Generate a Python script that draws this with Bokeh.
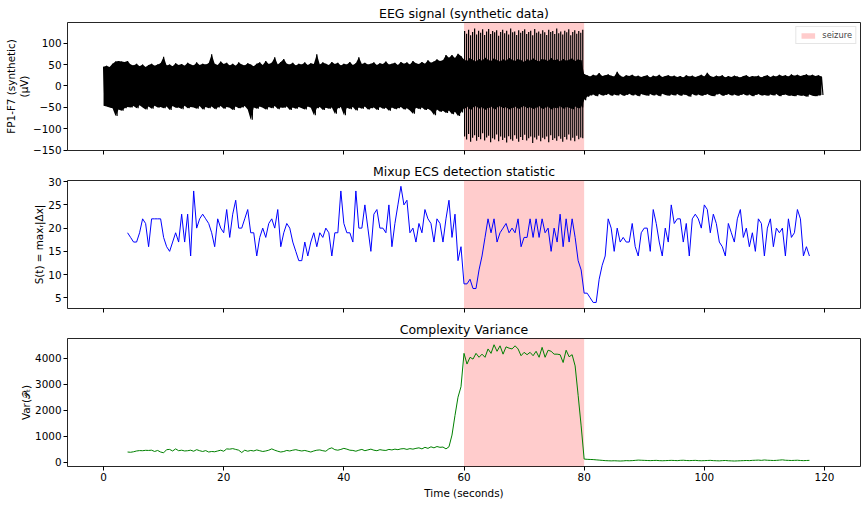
import numpy as np
from bokeh.plotting import figure
from bokeh.layouts import column
from bokeh.models import (BoxAnnotation, FixedTicker, Range1d, Legend, LegendItem,
                          CustomJSTickFormatter)
from bokeh.embed import file_html
from bokeh.resources import INLINE

# ---------------------------------------------------------------- data
seizure_start, seizure_end = 60.0, 80.0

# EEG amplitude envelope (µV), 0.5 s bins from 0 s to 120 s
eeg_bin = 0.5
eeg_upper_pre = [
    45, 47, 44, 52, 57, 58, 57, 56, 58, 50,
    48, 52, 46, 50, 44, 49, 52, 47, 50, 53,
    68, 48, 50, 46, 53, 49, 51, 47, 54, 50,
    48, 55, 49, 52, 50, 53, 74, 52, 49, 57,
    51, 54, 48, 52, 47, 55, 50, 48, 53, 50,
    46, 52, 55, 49, 58, 51, 54, 67, 50, 56,
    63, 52, 50, 54, 48, 52, 50, 55, 49, 53,
    51, 74, 50, 55, 52, 49, 56, 51, 54, 48,
    52, 50, 56, 49, 53, 67, 51, 54, 50, 52,
    55, 49, 53, 51, 57, 50, 52, 54, 49, 56,
    52, 55, 50, 58, 53, 51, 56, 52, 60, 54,
    57, 62, 58, 60, 72, 66, 72, 65, 75, 70]
eeg_lower_pre = [
    -46, -48, -50, -52, -70, -55, -58, -52, -49, -50,
    -47, -52, -45, -50, -55, -48, -53, -46, -50, -49,
    -52, -48, -56, -47, -51, -50, -54, -46, -52, -49,
    -50, -53, -47, -55, -49, -52, -48, -54, -50, -47,
    -53, -49, -51, -56, -48, -52, -50, -47, -55, -79,
    -50, -53, -48, -51, -55, -49, -52, -47, -54, -50,
    -51, -48, -56, -50, -53, -49, -52, -55, -48, -51,
    -68, -52, -49, -56, -51, -53, -50, -65, -52, -49,
    -68, -51, -54, -49, -57, -50, -53, -48, -55, -52,
    -50, -56, -49, -53, -51, -58, -50, -54, -52, -49,
    -55, -52, -57, -65, -51, -54, -50, -56, -53, -58,
    -68, -55, -60, -58, -63, -57, -66, -60, -70, -62]
eeg_upper_seizure = [
    62, 58, 65, 60, 57, 63, 59, 66, 61, 58, 64, 60, 57, 62, 59, 65, 61, 58, 63, 60,
    56, 62, 59, 64, 60, 57, 63, 61, 58, 65, 60, 62, 57, 63, 59, 61, 64, 58, 62, 60]
eeg_lower_seizure = [
    -52, -48, -55, -50, -47, -53, -49, -56, -51, -48, -54, -50, -47, -52, -49, -55, -51, -48, -53, -50,
    -46, -52, -49, -54, -50, -47, -53, -51, -48, -55, -50, -52, -47, -53, -49, -51, -54, -48, -52, -50]
eeg_upper_post = [
    28, 25, 22, 26, 24, 30, 23, 25, 27, 24,
    22, 33, 24, 21, 25, 23, 26, 22, 24, 21,
    23, 25, 20, 24, 22, 26, 21, 23, 25, 22,
    24, 21, 23, 20, 25, 22, 24, 21, 23, 26,
    22, 31, 23, 21, 24, 22, 25, 20, 23, 21,
    24, 22, 20, 23, 25, 21, 23, 22, 24, 20,
    23, 25, 21, 24, 22, 26, 23, 25, 22, 27,
    24, 26, 23, 25, 27, 24, 26, 23, 25, 22]
eeg_lower_post = [
    -33, -25, -22, -20, -24, -19, -22, -21, -18, -23,
    -20, -22, -19, -23, -21, -18, -22, -20, -24, -19,
    -21, -23, -19, -22, -20, -24, -18, -21, -23, -20,
    -22, -19, -23, -20, -21, -25, -19, -22, -20, -23,
    -21, -19, -22, -24, -20, -18, -23, -21, -19, -22,
    -20, -23, -21, -19, -22, -20, -24, -21, -19, -22,
    -21, -23, -20, -22, -19, -24, -21, -20, -23, -22,
    -24, -21, -23, -22, -25, -20, -23, -24, -22, -21]

# ~3 Hz spike-wave discharges during the seizure: per-cycle peak / trough (µV)
spike_start, spike_period = 60.1, 1.0 / 3.0
spike_peak = [
    128, 122, 131, 118, 126, 134, 120, 129, 124, 132,
    119, 127, 133, 121, 128, 125, 130, 117, 126, 131,
    123, 129, 120, 134, 125, 127, 119, 130, 124, 128,
    132, 121, 126, 129, 118, 133, 124, 127, 122, 130,
    125, 119, 131, 126, 128, 121, 134, 123, 127, 120,
    129, 125, 132, 118, 126, 130, 122, 128, 124, 131]
spike_trough = [
    -118, -125, -112, -130, -121, -115, -128, -119, -124, -110,
    -127, -120, -116, -131, -122, -125, -113, -129, -118, -126,
    -121, -132, -117, -124, -128, -115, -123, -130, -119, -126,
    -114, -127, -122, -118, -133, -120, -125, -116, -129, -121,
    -124, -118, -131, -115, -126, -122, -128, -117, -123, -130,
    -119, -125, -113, -127, -121, -129, -116, -124, -120, -122]

# Sliding-window statistics, one value every 0.5 s from t = 4 s
stat_start, stat_step = 4.0, 0.5
ecs_stat = [
    19, 18, 17, 17, 19, 22, 21, 16, 22, 22,
    22, 22, 18, 16, 15, 17, 19, 17, 23, 17,
    23, 14, 28, 20, 22, 23, 22, 21, 19, 16,
    22, 20, 19, 24, 18, 23, 26, 20, 20, 22,
    24, 19, 19, 14, 18, 20, 18, 21, 22, 20,
    24, 16, 19, 21, 20, 17, 15, 13,
    13, 17, 14, 17, 19, 16, 19, 18, 20, 19,
    14, 19, 19, 28, 21, 19, 19, 17, 28, 20,
    20, 25, 20, 15, 23, 24, 20, 20, 19, 25,
    16, 21, 25, 29, 25, 26, 19, 20, 17, 21,
    19, 24, 22, 21, 17, 22, 21, 17, 22, 26,
    18, 23, 13, 16,
    8, 8, 9, 7, 7, 11, 14, 18, 22, 19,
    22, 17, 19, 20, 21, 19, 20, 19, 22, 16,
    18, 18, 22, 18, 22, 18, 22, 19, 20, 15,
    20, 17, 23, 16, 22, 17, 22, 18, 13, 11,
    6, 6, 5, 4, 4, 9, 12, 14, 22, 20,
    15, 20, 17, 18, 17, 17, 21, 16, 14, 19,
    20, 20, 15, 24, 21, 17, 14, 20, 17, 25,
    21, 22, 22, 17, 21, 14, 22, 23, 22, 20,
    25, 24, 19, 23, 21, 17, 16, 14, 21, 19,
    17, 22, 24, 18, 20, 16, 19, 15, 22, 21,
    14, 20, 22, 16, 20, 19, 20, 14, 22, 18,
    19, 24, 22, 14, 16, 14]
complexity_var = [
    400, 390, 410, 440, 455, 450, 465, 460, 470, 420,
    460, 400, 370, 490, 500, 440, 520, 450, 470, 440,
    450, 470, 430, 490, 450, 420, 455, 400, 420, 410,
    440, 470, 430, 520, 510, 530, 500, 470, 380, 470,
    430, 460, 440, 480, 450, 420, 440, 470, 520, 470,
    430, 400, 420, 460, 440, 470, 490, 460, 440, 460,
    430, 400, 440, 470, 480, 450, 430, 520, 560, 490,
    470, 500, 540, 510, 470, 460, 430, 470, 500, 450,
    480, 510, 470, 450, 490, 470, 460, 500, 480, 510,
    490, 520, 530, 500, 530, 510, 540, 560, 520, 580,
    540, 600, 560, 610, 580, 590, 520, 600, 1050, 1800,
    2500, 2900,
    4180, 3770, 4030, 3960, 4180, 4030, 4150, 4030, 4350, 4180,
    4510, 4260, 4470, 4150, 4430, 4380, 4350, 4470, 4350, 4090,
    4220, 4130, 4220, 4090, 4260, 4030, 4410, 4030, 4300, 4260,
    4150, 4150, 4130, 3830, 4300, 4050, 4130, 3700, 2570, 1400,
    130, 120, 115, 110, 100, 90, 80, 70, 65, 60,
    65, 60, 55, 60, 70, 65, 70, 80, 90, 85,
    80, 75, 70, 75, 80, 70, 65, 70, 75, 80,
    75, 70, 80, 85, 75, 70, 75, 80, 70, 65,
    70, 75, 80, 70, 65, 60, 70, 75, 65, 60,
    55, 60, 65, 70, 75, 70, 80, 85, 90, 80,
    95, 85, 80, 75, 80, 90, 100, 85, 80, 75,
    80, 85, 75, 70, 75, 80]

x_ticks = [0, 20, 40, 60, 80, 100, 120]
eeg_ticks = [-150, -100, -50, 0, 50, 100]
stat_ticks = [5, 10, 15, 20, 25, 30]
var_ticks = [0, 1000, 2000, 3000, 4000]

# ---------------------------------------------------------------- derived
eeg_upper = np.array(eeg_upper_pre + eeg_upper_seizure + eeg_upper_post)
eeg_lower = np.array(eeg_lower_pre + eeg_lower_seizure + eeg_lower_post)
assert len(eeg_upper) == len(eeg_lower) == 240
bin_left = np.arange(len(eeg_upper)) * eeg_bin
# trace swings from each bin's maximum to its minimum
eeg_x = np.empty(2 * len(bin_left))
eeg_y = np.empty(2 * len(bin_left))
eeg_x[0::2], eeg_x[1::2] = bin_left, bin_left + eeg_bin / 2
eeg_y[0::2], eeg_y[1::2] = eeg_upper, eeg_lower

spike_t = spike_start + np.arange(len(spike_peak)) * spike_period
stat_t = stat_start + np.arange(len(ecs_stat)) * stat_step
assert len(ecs_stat) == len(complexity_var) == 228

# ---------------------------------------------------------------- styling
FONT = "DejaVu Sans"
W = 867
x_range = Range1d(-6, 126)
minus_fmt = "return tick < 0 ? '\u2212' + Math.abs(tick) : '' + tick;"


def make_panel(title, height, border_bottom, y_range, yticks, ylabel, show_xlabels):
    p = figure(width=W, height=height, x_range=x_range, y_range=y_range,
               output_backend="svg", toolbar_location=None,
               min_border_left=67, min_border_right=7, min_border_top=22,
               min_border_bottom=border_bottom, title=title)
    p.title.text_font = FONT
    p.title.text_font_size = "12.5px"
    p.title.text_font_style = "normal"
    p.title.text_color = "black"
    p.title.align = "center"
    p.title.standoff = 3
    p.xgrid.visible = False
    p.ygrid.visible = False
    p.outline_line_color = "black"
    p.outline_line_alpha = 0.85
    p.outline_line_width = 1
    p.background_fill_color = "white"
    p.border_fill_color = "white"
    for ax in (p.xaxis[0], p.yaxis[0]):
        ax.axis_line_color = None
        ax.major_tick_out = 4
        ax.major_tick_in = 0
        ax.minor_tick_out = 0
        ax.minor_tick_in = 0
        ax.major_tick_line_color = "black"
        ax.major_label_text_font = FONT
        ax.major_label_text_font_size = "10.4px"
        ax.major_label_text_color = "black"
        ax.major_label_standoff = 2
        ax.axis_label_text_font = FONT
        ax.axis_label_text_font_size = "10.4px"
        ax.axis_label_text_font_style = "normal"
        ax.axis_label_text_color = "black"
        ax.axis_label_text_line_height = 1.1
    p.xaxis.ticker = FixedTicker(ticks=x_ticks)
    p.yaxis.ticker = FixedTicker(ticks=yticks)
    p.yaxis.formatter = CustomJSTickFormatter(code=minus_fmt)
    p.yaxis.axis_label = ylabel
    p.yaxis.axis_label_standoff = 0
    if not show_xlabels:
        # shared time axis: tick marks only
        p.xaxis.major_label_text_font_size = "1px"
        p.xaxis.major_label_text_color = None
        p.xaxis.major_label_standoff = 0
    else:
        p.xaxis.axis_label = "Time (seconds)"
        p.xaxis.axis_label_standoff = 3
    p.add_layout(BoxAnnotation(left=seizure_start, right=seizure_end,
                               fill_color="#ff0000", fill_alpha=0.2,
                               line_color=None, level="underlay"))
    return p


# ---- EEG trace
p1 = make_panel("EEG signal (synthetic data)", 158, 8, Range1d(-150.5, 148),
                eeg_ticks, "FP1-F7 (synthetic)\n(\u03bcV)", False)
p1.varea(x=bin_left, y1=eeg_lower, y2=eeg_upper, fill_color="black")
p1.line(eeg_x, eeg_y, line_color="black", line_width=1.2)
p1.segment(x0=spike_t, y0=spike_trough, x1=spike_t, y1=spike_peak,
           line_color="black", line_width=1.2)
# zero-height box carrying the legend swatch for the shaded interval
swatch = p1.quad(left=[seizure_start], right=[seizure_end], bottom=[0], top=[0],
                 fill_color="#ff0000", fill_alpha=0.2, line_color=None)
legend = Legend(items=[LegendItem(label="seizure", renderers=[swatch])],
                location="top_right")
legend.label_text_font = FONT
legend.label_text_font_size = "8.3px"
legend.label_height = 7
legend.glyph_height = 7
legend.glyph_width = 17
legend.label_standoff = 6
legend.padding = 3
legend.margin = 4
legend.spacing = 0
legend.border_line_color = "#cccccc"
legend.border_line_width = 1
legend.background_fill_alpha = 0.8
p1.add_layout(legend)

# ---- detection statistic
p2 = make_panel("Mixup ECS detection statistic", 158, 8, Range1d(2.7, 30.25),
                stat_ticks, "S(t) = max\u1d63|\u0394x|", False)
p2.line(stat_t, ecs_stat, line_color="#0000ff", line_width=1)

# ---- complexity variance
p3 = make_panel("Complexity Variance", 212, 62, Range1d(-155, 4750),
                var_ticks, "Var(\U0001d4ab\u209c)", True)
p3.line(stat_t, complexity_var, line_color="#008000", line_width=1)

layout = column(p1, p2, p3, spacing=0)
open("out.html", "w").write(file_html(layout, INLINE))
